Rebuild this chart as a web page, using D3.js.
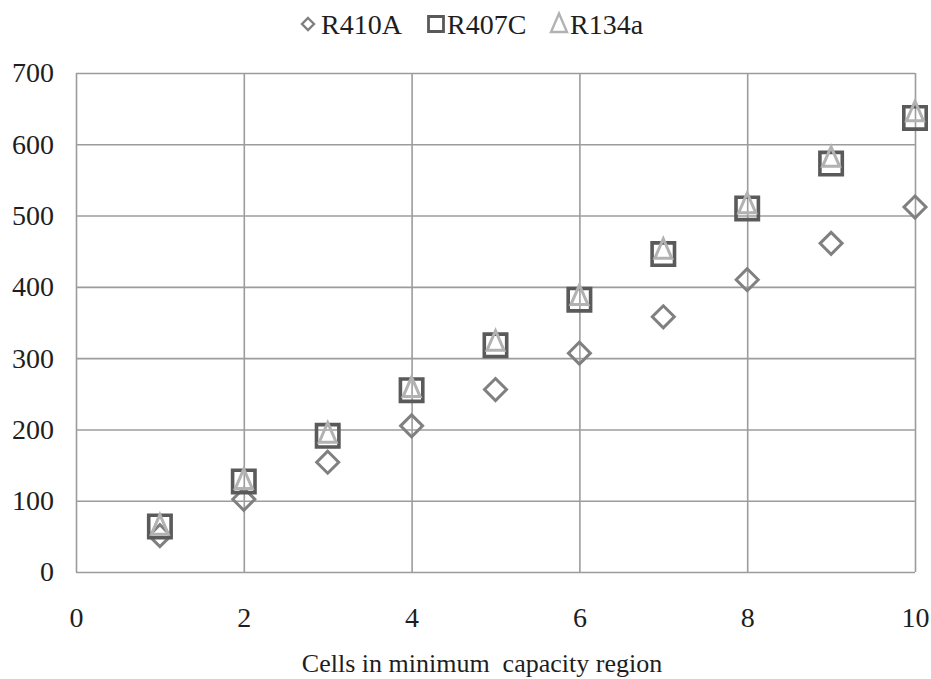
<!DOCTYPE html>
<html>
<head>
<meta charset="utf-8">
<script src="https://cdn.jsdelivr.net/npm/d3@7"></script>
<style>
  html, body { margin: 0; padding: 0; background: #fff; }
  svg { display: block; }
  svg text { font-family: "Liberation Serif", "Times New Roman", serif; }
</style>
</head>
<body>
<svg id="chart" width="931" height="679"></svg>
<script>
// Cells in the minimum-capacity region (x) and the values for each refrigerant
const cells = [1, 2, 3, 4, 5, 6, 7, 8, 9, 10];
const r410a = [51, 102, 154, 205, 256, 307, 358, 410, 461, 512];
const r407c = [64, 127, 191, 255, 318, 382, 446, 510, 573, 637];
const r134a = [65, 129, 194, 258, 323, 387, 452, 516, 581, 645];
const seriesNames = ["R410A", "R407C", "R134a"];
const xTicks = [0, 2, 4, 6, 8, 10];
const yTicks = [0, 100, 200, 300, 400, 500, 600, 700];
const xTitle = "Cells in minimum  capacity region";

const serif = '"Liberation Serif", "Times New Roman", serif';
const textColor = "#1e1e1e";

const svg = d3.select("#chart");
const plot = { left: 76, right: 915, top: 73, bottom: 572 };

const x = d3.scaleLinear().domain([0, 10]).range([plot.left, plot.right]);
const y = d3.scaleLinear().domain([0, 700]).range([plot.bottom, plot.top]);

const gridColor = "#9c9c9c";

// Gridlines drawn through the axis generators
svg.append("g")
  .attr("transform", `translate(0,${plot.bottom})`)
  .call(d3.axisBottom(x).tickValues(xTicks).tickSize(-(plot.bottom - plot.top)).tickFormat(""))
  .call(g => g.select(".domain").remove())
  .call(g => g.selectAll("line").attr("stroke", gridColor).attr("stroke-width", 1.6));

svg.append("g")
  .attr("transform", `translate(${plot.left},0)`)
  .call(d3.axisLeft(y).tickValues(yTicks).tickSize(-(plot.right - plot.left)).tickFormat(""))
  .call(g => g.select(".domain").remove())
  .call(g => g.selectAll("line").attr("stroke", gridColor).attr("stroke-width", 1.6));

// Tick labels
const labelStyle = g => g.attr("font-family", serif).attr("font-size", 28)
  .selectAll("text").attr("fill", textColor);

svg.append("g")
  .attr("transform", `translate(0,${plot.bottom})`)
  .call(d3.axisBottom(x).tickValues(xTicks).tickSize(0).tickPadding(35).tickFormat(d3.format("d")))
  .call(g => g.select(".domain").remove())
  .call(labelStyle);

svg.append("g")
  .attr("transform", `translate(${plot.left},0)`)
  .call(d3.axisLeft(y).tickValues(yTicks).tickSize(0).tickPadding(22).tickFormat(d3.format("d")))
  .call(g => g.select(".domain").remove())
  .call(labelStyle);

// Axis title
svg.append("text")
  .attr("x", 482)
  .attr("y", 672)
  .attr("text-anchor", "middle")
  .attr("fill", textColor)
  .attr("font-family", serif)
  .attr("font-size", 26)
  .style("white-space", "pre")
  .text(xTitle);

// Marker shapes
const diamond = s => `M0,${-s}L${s},0L0,${s}L${-s},0Z`;
const square = s => `M${-s},${-s}H${s}V${s}H${-s}Z`;
const triangle = s => `M0,${-s * 1.3}L${s},${s}L${-s},${s}Z`;

const series = [
  { name: seriesNames[0], values: r410a, path: diamond(11), color: "#808080", width: 3 },
  { name: seriesNames[1], values: r407c, path: square(11.2), color: "#5a5a5a", width: 3.6 },
  { name: seriesNames[2], values: r134a, path: triangle(8.5), color: "#b2b2b2", width: 3 }
];

series.forEach(s => {
  svg.append("g").selectAll("path")
    .data(cells.map((c, i) => ({ c, v: s.values[i] })))
    .join("path")
    .attr("transform", d => `translate(${x(d.c)},${y(d.v)})`)
    .attr("d", s.path)
    .attr("fill", "none")
    .attr("stroke", s.color)
    .attr("stroke-width", s.width)
    .attr("stroke-linejoin", "miter");
});

// Legend
const legendItems = [
  { marker: diamond(6), color: "#808080", w: 2.4, mx: 308, tx: 321 },
  { marker: square(7.5), color: "#5a5a5a", w: 2.8, mx: 436, tx: 447 },
  { marker: triangle(8), color: "#b2b2b2", w: 2.4, mx: 559, tx: 570 }
];
legendItems.forEach((l, i) => {
  svg.append("path")
    .attr("transform", `translate(${l.mx},24)`)
    .attr("d", l.marker)
    .attr("fill", "none")
    .attr("stroke", l.color)
    .attr("stroke-width", l.w);
  svg.append("text")
    .attr("x", l.tx)
    .attr("y", 34)
    .attr("fill", textColor)
    .attr("font-family", serif)
    .attr("font-size", 28)
    .text(seriesNames[i]);
});
</script>
</body>
</html>
